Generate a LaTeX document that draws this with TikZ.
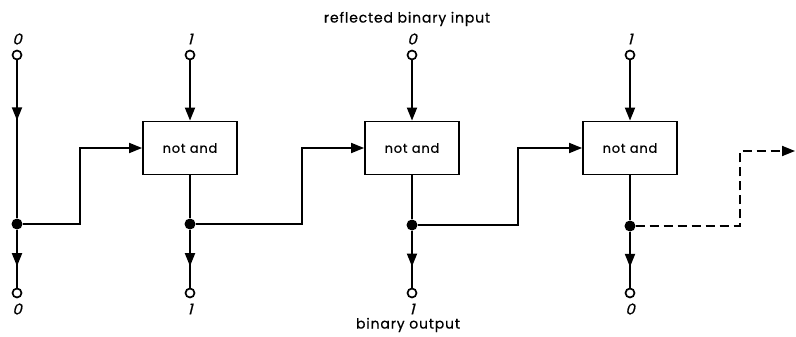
\documentclass[tikz,border=0pt]{standalone}
\usepackage{fontspec}
\setsansfont[LetterSpace=6,FakeBold=0.6]{Poppins}
\newfontfamily\bitfont[FakeSlant=0.25,FakeBold=0.6]{Poppins}
\usetikzlibrary{arrows.meta, decorations.markings}

\begin{document}
\begin{tikzpicture}[
    x=1pt,y=-1pt,
    gate/.style={draw,line width=1.8pt,minimum width=94pt,minimum height=53pt,
      inner sep=0pt,font=\sffamily\fontsize{13}{14}\selectfont},
    terminal/.style={circle,draw,line width=1.7pt,fill=white,minimum size=9pt,inner sep=0pt},
    junction/.style={circle,fill=black,minimum size=11pt,inner sep=0pt},
    bit/.style={font=\bitfont\fontsize{15}{15}\selectfont,inner sep=0pt},
    caption/.style={font=\sffamily\fontsize{14}{15}\selectfont},
    wire/.style={line width=1.8pt},
    arrow/.style={wire,-{Triangle[length=13pt,width=10pt]}},
    midarrow/.style={wire,postaction={decorate},decoration={markings,
      mark=at position #1 with {\arrow{Triangle[length=13pt,width=10pt]}}}}
  ]
  \useasboundingbox (0,0) rectangle (796,337);

  % Captions
  \node[caption] (title) at (407,19) {reflected binary input};
  \node[caption] (foot) at (408,325) {binary output};

  % Gates
  \node[gate] (gate1) at (190,148) {not and};
  \node[gate] (gate2) at (412,148) {not and};
  \node[gate] (gate3) at (630,148) {not and};

  % Inputs
  \node[terminal] (in0) at (17,55) {};
  \node[terminal] (in1) at (190,55) {};
  \node[terminal] (in2) at (412,55) {};
  \node[terminal] (in3) at (630,55) {};
  \node[bit] (inb0) at (17,39) {0};
  \node[bit] (inb1) at (190,39) {1};
  \node[bit] (inb2) at (412,39) {0};
  \node[bit] (inb3) at (630,39) {1};

  % Junctions
  \node[junction] (junc0) at (17,224) {};
  \node[junction] (junc1) at (190,224) {};
  \node[junction] (junc2) at (412,225) {};
  \node[junction] (junc3) at (630,226) {};

  % Outputs
  \node[terminal] (out0) at (17,293) {};
  \node[terminal] (out1) at (190,293) {};
  \node[terminal] (out2) at (412,293) {};
  \node[terminal] (out3) at (630,293) {};
  \node[bit] (outb0) at (17,309) {0};
  \node[bit] (outb1) at (190,309) {1};
  \node[bit] (outb2) at (412,309) {1};
  \node[bit] (outb3) at (630,309) {0};

  % Feedback corners
  \coordinate (fb0) at (80,148);
  \coordinate (fb1) at (302,148);
  \coordinate (fb2) at (518,148);
  \coordinate (fb3) at (740,151);
  \coordinate (next) at (795,151);

  % Vertical wires
  \draw[midarrow=0.38] (in0) -- (junc0);
  \draw[arrow] (in1) -- (gate1);
  \draw[arrow] (in2) -- (gate2);
  \draw[arrow] (in3) -- (gate3);
  \draw[wire] (gate1) -- (junc1);
  \draw[wire] (gate2) -- (junc2);
  \draw[wire] (gate3) -- (junc3);
  \draw[midarrow=0.63] (junc0) -- (out0);
  \draw[midarrow=0.63] (junc1) -- (out1);
  \draw[midarrow=0.63] (junc2) -- (out2);
  \draw[midarrow=0.63] (junc3) -- (out3);

  % Carry to next stage
  \draw[arrow] (junc0) -| (fb0) -- (gate1.west);
  \draw[arrow] (junc1) -| (fb1) -- (gate2.west);
  \draw[arrow] (junc2) -| (fb2) -- (gate3.west);
  \draw[arrow,dash pattern=on 9pt off 5pt] (junc3) -| (fb3) -- (next);

\end{tikzpicture}
\end{document}
